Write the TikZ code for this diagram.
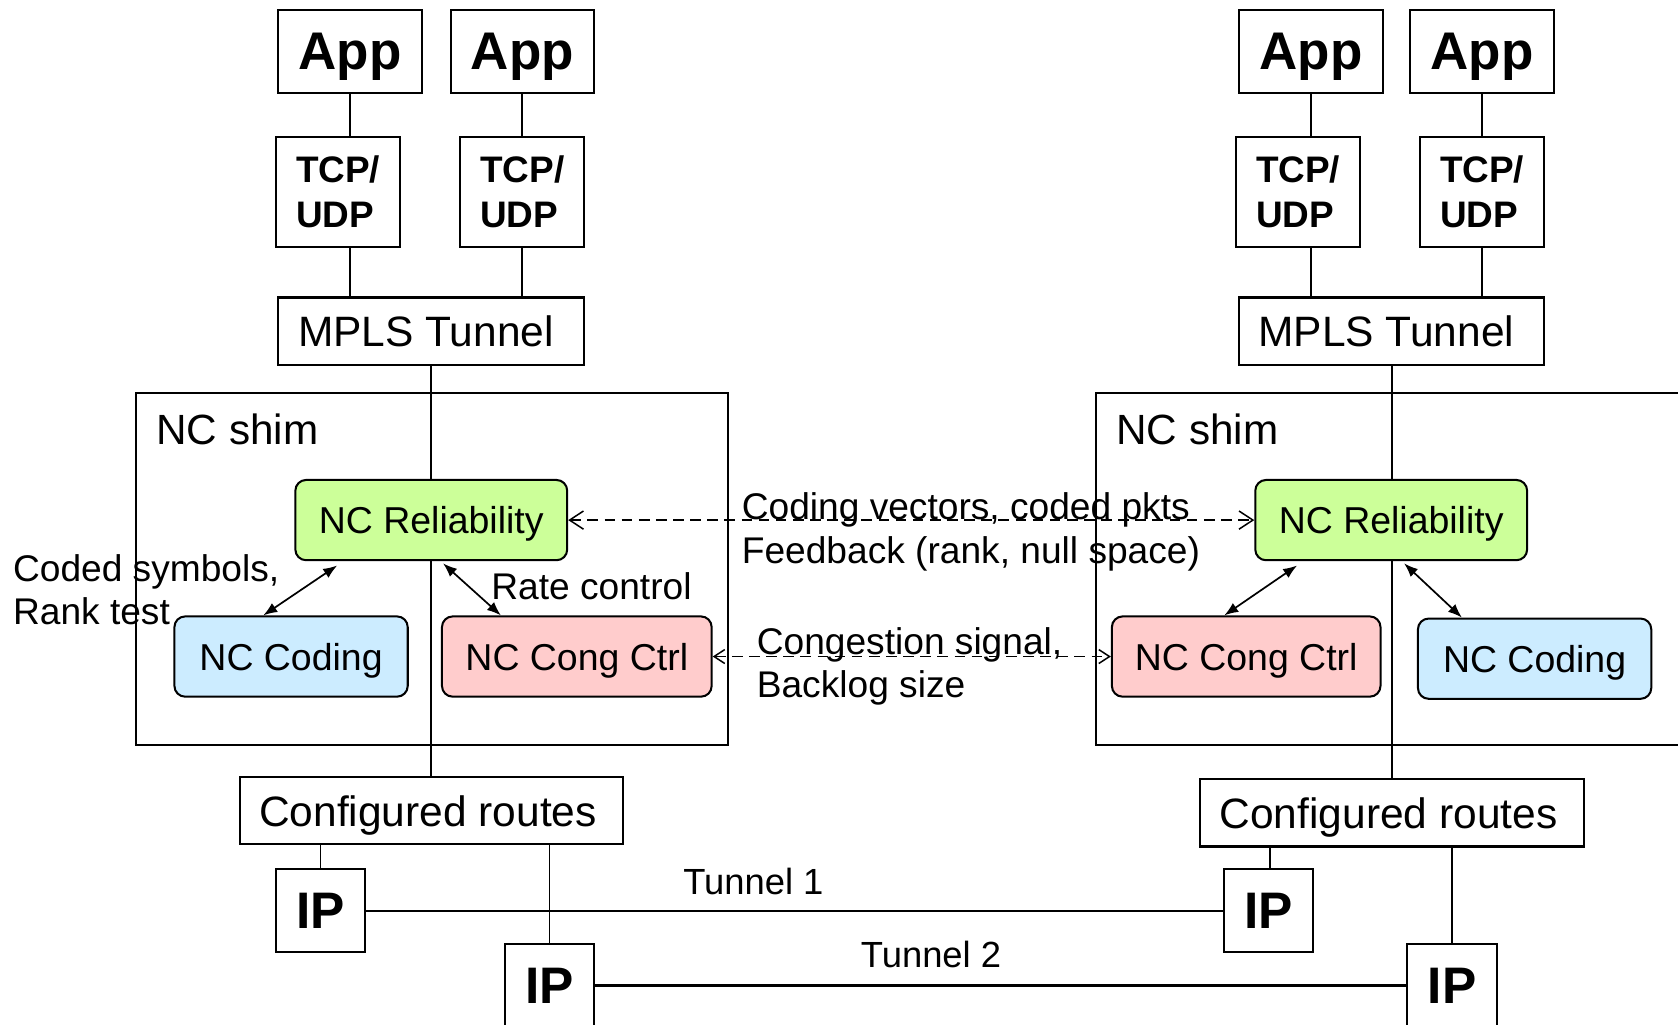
\documentclass[tikz,border=0pt]{standalone}
\usepackage{fontspec}
\setmainfont{Liberation Sans}
\usetikzlibrary{arrows.meta,calc,backgrounds}

\definecolor{relgreen}{HTML}{CCFF99}
\definecolor{codblue}{HTML}{CCECFF}
\definecolor{congpink}{HTML}{FFCCCC}

\tikzset{
  plainbox/.style={draw, line width=1.9pt, inner sep=0pt},
  appbox/.style={plainbox, font=\fontsize{49.5}{59}\selectfont\bfseries,
    minimum width=134pt, minimum height=78pt, text depth=0pt},
  tcpbox/.style={plainbox, font=\fontsize{34.5}{42}\selectfont\bfseries, align=left,
    minimum width=116pt, minimum height=103pt},
  widebox/.style={plainbox, font=\fontsize{39.7}{47}\selectfont,
    minimum height=63pt, text depth=0pt},
  module/.style={draw, line width=1.9pt, rounded corners=10pt, inner sep=0pt,
    font=\fontsize{35}{42}\selectfont, minimum height=75pt, text depth=0pt},
  ipbox/.style={plainbox, font=\fontsize{48}{57}\selectfont\bfseries,
    minimum width=83pt, minimum height=78pt},
  shimbox/.style={draw, line width=1.9pt, inner sep=0pt},
  shimlabel/.style={inner sep=0pt, anchor=base west, font=\fontsize{39.5}{47}\selectfont},
  note/.style={inner sep=0pt, anchor=base west, font=\fontsize{34.7}{42}\selectfont},
  wire/.style={line width=1.8pt},
  biarrow/.style={line width=1.6pt,
    {Latex[length=13pt,width=10pt]}-{Latex[length=13pt,width=10pt]}},
  msgarrow/.style={line width=1.4pt, dash pattern=on 10pt off 6pt}
}

\begin{document}
\begin{tikzpicture}[x=1pt,y=-1pt]
\useasboundingbox (0,0) rectangle (1568,957);

% ---------- left host ----------
\node[appbox] (app1) at (327,48) {App};
\node[appbox] (app2) at (488,48) {App};
\node[tcpbox] (tcp1) at (316,179.5) {TCP/\\UDP};
\node[tcpbox] (tcp2) at (488,179.5) {TCP/\\UDP};
\node[widebox, minimum width=286pt] (mpls1) at (403,309.5) {MPLS Tunnel\rule{10pt}{0pt}};
\node[shimbox, minimum width=553pt, minimum height=329pt] (shim1) at (403.5,531.5) {};
\node[shimlabel] (shimtxt1) at (146,415) {NC shim};
\node[module, fill=relgreen, minimum width=254pt] (rel1) at (403,486) {NC Reliability};
\node[module, fill=codblue, minimum width=218pt] (cod1) at (272,613.5) {NC Coding};
\node[module, fill=congpink, minimum width=252pt] (cong1) at (539,613.5) {NC Cong Ctrl};
\node[widebox, minimum width=358pt] (conf1) at (403,757.5) {Configured routes\rule{6pt}{0pt}};
\node[ipbox] (ip1) at (299.5,851) {IP};
\node[ipbox] (ip2) at (513.5,921) {IP};

% ---------- right host ----------
\node[appbox] (app3) at (1225,48) {App};
\node[appbox] (app4) at (1385,48) {App};
\node[tcpbox] (tcp3) at (1213,179.5) {TCP/\\UDP};
\node[tcpbox] (tcp4) at (1385,179.5) {TCP/\\UDP};
\node[widebox, minimum width=285pt] (mpls2) at (1300.5,309.5) {MPLS Tunnel\rule{10pt}{0pt}};
\node[shimbox, minimum width=576pt, minimum height=329pt] (shim2) at (1312,531.5) {};
\node[shimlabel] (shimtxt2) at (1043,415) {NC shim};
\node[module, fill=relgreen, minimum width=254pt] (rel2) at (1300,486) {NC Reliability};
\node[module, fill=congpink, minimum width=251pt] (cong2) at (1164.5,613.5) {NC Cong Ctrl};
\node[module, fill=codblue, minimum width=218pt] (cod2) at (1434,615.5) {NC Coding};
\node[widebox, minimum width=359pt] (conf2) at (1300.5,759.5) {Configured routes\rule{6pt}{0pt}};
\node[ipbox] (ip3) at (1185.5,851) {IP};
\node[ipbox, minimum width=84pt] (ip4) at (1357,921) {IP};

% ---------- vertical data path through the shims ----------
\begin{pgfonlayer}{background}
  \draw[wire, line width=1.9pt] (mpls1.south) -- (conf1.north);
  \draw[wire, line width=1.9pt] (mpls2.south) -- (conf2.north);
\end{pgfonlayer}

% ---------- stack connectors ----------
\draw[wire] (app1.south) -- (app1.south |- tcp1.north);
\draw[wire] (app1.south |- tcp1.south) -- (app1.south |- mpls1.north);
\draw[wire] (app2.south) -- (tcp2.north);
\draw[wire] (tcp2.south) -- (tcp2.south |- mpls1.north);
\draw[wire] (app3.south) -- (app3.south |- tcp3.north);
\draw[wire] (app3.south |- tcp3.south) -- (app3.south |- mpls2.north);
\draw[wire] (app4.south) -- (tcp4.north);
\draw[wire] (tcp4.south) -- (tcp4.south |- mpls2.north);

\draw[wire] (ip1.north) -- (ip1.north |- conf1.south);
\draw[wire] (ip2.north) -- (ip2.north |- conf1.south);
\draw[wire] ([xshift=1.5pt]ip3.north) -- ([xshift=1.5pt]ip3.north |- conf2.south);
\draw[wire] (ip4.north) -- (ip4.north |- conf2.south);

% ---------- tunnels ----------
\draw[wire] (ip1) -- (ip3);
\draw[wire, line width=2.3pt] (ip2) -- (ip4);
\node[note, anchor=base, font=\fontsize{34}{41}\selectfont] (t1) at (704,836) {Tunnel 1};
\node[note, anchor=base, font=\fontsize{34}{41}\selectfont] (t2) at (870,904) {Tunnel 2};

% ---------- interactions inside the shims ----------
\draw[biarrow] ($(cod1.north west)+(84,0)$) -- ($(rel1.south west)+(40,4)$);
\draw[biarrow] ($(rel1.south west)+(139,2)$) -- ($(cong1.north west)+(56,0)$);
\draw[biarrow] ($(rel2.south west)+(40,4)$) -- ($(cong2.north west)+(106,0)$);
\draw[biarrow] ($(rel2.south west)+(140,2)$) -- ($(cod2.north west)+(42,0)$);

\node[note] (cs1) at (12,543) {Coded symbols,};
\node[note] (cs2) at (12,584) {Rank test};
\node[note] (rc) at (459,560) {Rate control};

% ---------- end-to-end signalling ----------
\draw[msgarrow, {Straight Barb[length=13pt,width=17pt]}-{Straight Barb[length=13pt,width=17pt]}]
  (rel1.east) -- (rel2.west);
\draw[msgarrow, {Straight Barb[length=10pt,width=13pt]}-{Straight Barb[length=10pt,width=13pt]}]
  (cong1.east) -- (cong2.west);
\node[note] (m1) at (693,485) {Coding vectors, coded pkts};
\node[note] (m2) at (693,527) {Feedback (rank, null space)};
\node[note] (m3) at (707,612) {Congestion signal,};
\node[note] (m4) at (707,652) {Backlog size};

\end{tikzpicture}
\end{document}
